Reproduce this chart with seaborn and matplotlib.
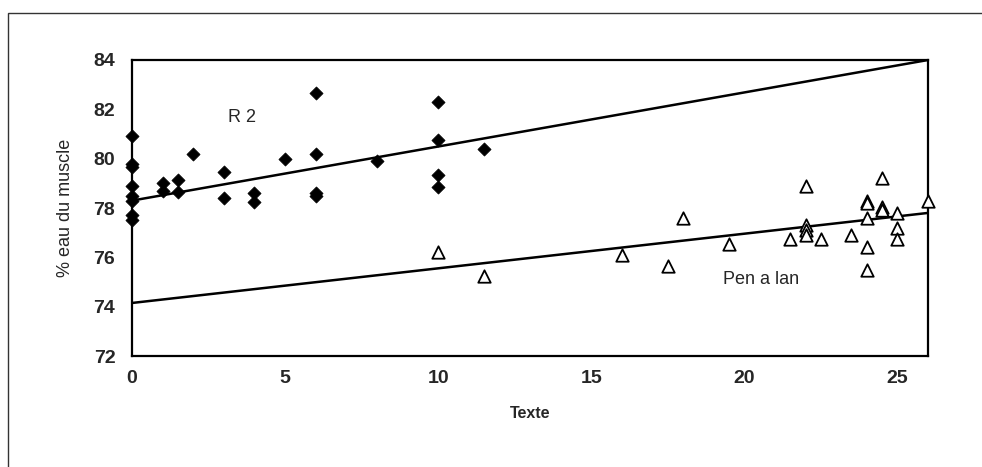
import pandas as pd
import matplotlib
matplotlib.use("Agg")
import matplotlib.pyplot as plt
import seaborn as sns
from matplotlib.patches import Rectangle

# ---------------------------------------------------------------
# Data
# ---------------------------------------------------------------
r2_x = [0, 0, 0, 0, 0, 0, 0, 0, 1, 1, 1.5, 1.5, 2, 3, 3, 4, 4, 5,
        6, 6, 6, 6, 8, 10, 10, 10, 10, 11.5]
r2_y = [80.9, 79.8, 79.65, 78.9, 78.5, 78.3, 77.7, 77.5, 79.0, 78.7,
        79.15, 78.65, 80.2, 79.45, 78.4, 78.6, 78.25, 80.0,
        82.65, 80.2, 78.6, 78.5, 79.9, 82.3, 80.75, 79.35, 78.85, 80.4]

pen_x = [10, 11.5, 16, 17.5, 18, 19.5, 21.5, 22, 22, 22, 22, 22.5, 23.5,
         24, 24, 24, 24, 24, 24.5, 24.5, 24.5, 25, 25, 25, 26]
pen_y = [76.2, 75.25, 76.1, 75.65, 77.6, 76.55, 76.75, 78.9, 77.3, 77.1,
         76.9, 76.75, 76.9, 78.3, 78.2, 77.6, 76.4, 75.5, 79.2, 78.05,
         77.9, 77.8, 77.2, 76.75, 78.3]

# fitted lines as printed on the chart (endpoints at x = 0 and x = 26)
line_x = [0, 26]
r2_line_y = [78.3, 84.0]
pen_line_y = [74.15, 77.8]

x_ticks = [0, 5, 10, 15, 20, 25]
y_ticks = [72, 74, 76, 78, 80, 82, 84]

r2_df = pd.DataFrame({"Texte": r2_x, "eau": r2_y})
pen_df = pd.DataFrame({"Texte": pen_x, "eau": pen_y})

# ---------------------------------------------------------------
# Plot
# ---------------------------------------------------------------
sns.set_style("white")
plt.rcParams["font.family"] = ["Liberation Sans", "DejaVu Sans"]

fig = plt.figure(figsize=(9.82, 4.67), dpi=100)
ax = fig.add_axes([132 / 982, 1 - 356 / 467, 796 / 982, 296 / 467])

# outer frame of the scanned figure (only left and top edges visible)
fig.patches.append(Rectangle((8 / 982, -0.1), 1.2, 1 - 13 / 467 + 0.1,
                             transform=fig.transFigure, fill=False,
                             edgecolor="#333333", linewidth=1.0))

sns.lineplot(x=line_x, y=r2_line_y, ax=ax, color="black", linewidth=1.8,
             zorder=2)
sns.lineplot(x=line_x, y=pen_line_y, ax=ax, color="black", linewidth=1.8,
             zorder=2)

sns.scatterplot(data=r2_df, x="Texte", y="eau", ax=ax, marker="D", s=45,
                color="black", edgecolor="black", linewidth=0.5, zorder=3,
                clip_on=False)
sns.scatterplot(data=pen_df, x="Texte", y="eau", ax=ax, marker="^", s=80,
                facecolor="white", edgecolor="black", linewidth=1.3,
                zorder=3, clip_on=False)

ax.text(3.6, 81.65, "R 2", fontsize=13, ha="center", va="center")
ax.text(19.3, 75.1, "Pen a lan", fontsize=13, ha="left", va="center")

ax.set_xlim(0, 26)
ax.set_ylim(72, 84)
ax.set_xticks(x_ticks)
ax.set_yticks(y_ticks)
ax.tick_params(axis="both", length=0, labelsize=14)
ax.tick_params(axis="y", pad=12)
ax.tick_params(axis="x", pad=10)
for lab in ax.get_xticklabels() + ax.get_yticklabels():
    lab.set_fontweight("bold")

ax.set_xlabel("Texte", fontsize=11.5, fontweight="bold", labelpad=14)
ax.set_ylabel("% eau du muscle", fontsize=13, labelpad=14)

for sp in ax.spines.values():
    sp.set_visible(True)
    sp.set_color("black")
    sp.set_linewidth(1.6)

fig.savefig("out.png", dpi=100)
